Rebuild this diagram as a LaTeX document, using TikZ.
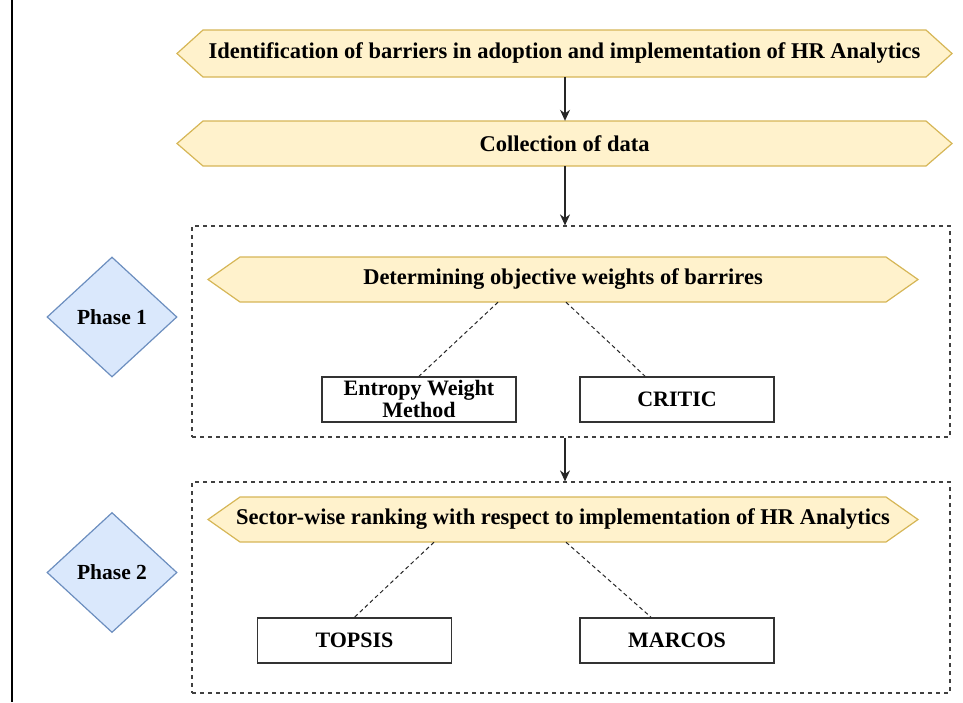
\documentclass[tikz,border=0pt]{standalone}
\usepackage{fontspec}
\setmainfont{Liberation Serif}
\usetikzlibrary{arrows.meta,shapes.geometric}
\definecolor{hexfill}{HTML}{FFF2CC}
\definecolor{hexline}{HTML}{D6B656}
\definecolor{diafill}{HTML}{DAE8FC}
\definecolor{dialine}{HTML}{6C8EBF}
\tikzset{
  hexshape/.style={fill=hexfill,draw=hexline,line width=1.2pt},
  hextext/.style={font=\bfseries\fontsize{22.5}{24}\selectfont,inner sep=0pt},
  flow/.style={-{Stealth[length=11pt,width=10pt]},line width=1.3pt,black!85},
  group/.style={draw=black!75,dashed,line width=1.2pt,dash pattern=on 4pt off 4pt},
  method/.style={draw=black!80,line width=1.6pt,minimum width=194pt,minimum height=45pt,inner sep=0pt,font=\bfseries\fontsize{22}{22}\selectfont,align=center},
  phase/.style={diamond,aspect=1.08,fill=diafill,draw=dialine,line width=1.2pt,minimum width=130pt,minimum height=120pt,inner sep=0pt,font=\bfseries\fontsize{21.5}{23}\selectfont},
  link/.style={dashed,dash pattern=on 4pt off 3pt,line width=1pt,black!85}
}
\begin{document}
\begin{tikzpicture}[x=1pt,y=-1pt]
\useasboundingbox (0,0) rectangle (963,702);
\draw[line width=1.2pt] (12,0) -- (12,702);
% hexagons
\draw[hexshape] (177,53.5) -- (203,30) -- (926,30) -- (952,53.5) -- (926,77) -- (203,77) -- cycle;
\node[hextext,minimum width=775pt,minimum height=47pt] (h1) at (564.5,53.5) {Identification of barriers in adoption and implementation of HR Analytics};
\draw[hexshape] (177,143.5) -- (203,121) -- (926,121) -- (952,143.5) -- (926,166) -- (203,166) -- cycle;
\node[hextext,minimum width=775pt,minimum height=45pt] (h2) at (564.5,143.5) {Collection of data};
% group boxes
\node[group,minimum width=758pt,minimum height=211pt,inner sep=0pt] (g1) at (571,331.5) {};
\node[group,minimum width=758pt,minimum height=211pt,inner sep=0pt] (g2) at (571,587.5) {};
\draw[hexshape] (208,279.5) -- (240,257) -- (886,257) -- (918,279.5) -- (886,302) -- (240,302) -- cycle;
\node[hextext,minimum width=710pt,minimum height=45pt] (h3) at (563,279.5) {Determining objective weights of barrires};
\draw[hexshape] (208,519.5) -- (240,497) -- (886,497) -- (918,519.5) -- (886,542) -- (240,542) -- cycle;
\node[hextext,minimum width=710pt,minimum height=45pt] (h4) at (563,519.5) {Sector-wise ranking with respect to implementation of HR Analytics};
% methods
\node[method] (ewm) at (419,399.5) {};
\node[font=\bfseries\fontsize{22}{20}\selectfont,align=center,inner sep=0pt] at (419,399) {Entropy Weight\\Method};
\node[method] (critic) at (677,399.5) {CRITIC};
\node[method] (topsis) at (354.5,640.5) {TOPSIS};
\node[method] (marcos) at (677,640.5) {MARCOS};
% phases
\node[phase] (p1) at (112,317) {Phase 1};
\node[phase] (p2) at (112,572.5) {Phase 2};
% connectors
\draw[flow] (h1.south -| 565,0) -- (h2.north -| 565,0);
\draw[flow] (h2.south -| 565,0) -- (g1.north -| 565,0);
\draw[flow] (g1.south -| 565,0) -- (g2.north -| 565,0);
\draw[link] (h3.south -| 498,0) -- (ewm.north);
\draw[link] (h3.south -| 566,0) -- (critic.north -| 645,0);
\draw[link] (h4.south -| 434,0) -- (topsis.north);
\draw[link] (h4.south -| 566,0) -- (marcos.north -| 651,0);
\end{tikzpicture}
\end{document}
